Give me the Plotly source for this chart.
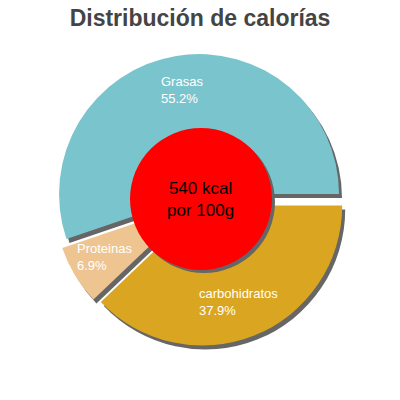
import plotly.graph_objects as go

# energy split (percent of calories)
labels = ["Grasas", "Proteinas", "carbohidratos"]
values = [55.2, 6.9, 37.9]
colors = ["#7AC5CD", "#EEC591", "#DAA520"]
center_text = ["540 kcal", "por 100g"]

W = H = 400
cx, cy, half = 200, 200, 146  # pie centre / half box (px)
pull = 0.043
shadow_dx, shadow_dy = 3, 4
# first slice starts at 3 o'clock and runs counterclockwise
rot = 90 - 360 * values[0] / sum(values)


def dom(x, y, h):
    # px box -> paper domain
    return dict(x=[(x - h) / W, (x + h) / W], y=[(H - y - h) / H, (H - y + h) / H])


fig = go.Figure()
# shadow pie
fig.add_trace(go.Pie(labels=labels, values=values, sort=False, direction="counterclockwise",
                     rotation=rot, pull=[pull] * 3, marker=dict(colors=["#666666"] * 3, line=dict(width=0)),
                     textinfo="none", hoverinfo="skip", showlegend=False,
                     domain=dom(cx + shadow_dx, cy + shadow_dy, half)))
fig.add_trace(go.Pie(labels=labels, values=values, sort=False, direction="counterclockwise",
                     rotation=rot, pull=[pull] * 3, marker=dict(colors=colors, line=dict(width=0)),
                     textinfo="none", hoverinfo="skip", showlegend=False,
                     domain=dom(cx, cy, half)))

# red centre disc + shadow
r0, ccx, ccy = 71, 201, 199
for dx, dy, col in [(3, 3, "#666666"), (0, 0, "#FF0000")]:
    fig.add_shape(type="circle", xref="paper", yref="paper", layer="above",
                  x0=(ccx - r0 + dx) / W, x1=(ccx + r0 + dx) / W,
                  y0=(H - ccy - r0 - dy) / H, y1=(H - ccy + r0 - dy) / H,
                  fillcolor=col, line=dict(width=0))

fig.add_annotation(x=ccx / W, y=1 - ccy / H, xref="paper", yref="paper",
                   text="<br>".join(center_text), showarrow=False, align="center",
                   font=dict(size=17, color="black", family="Liberation Sans"))

# slice labels (left x, middle y of the two lines)
label_pos = [(159, 90), (75, 257), (197, 302)]
for lab, v, (lx, ly) in zip(labels, values, label_pos):
    fig.add_annotation(x=lx / W, y=1 - ly / H, xref="paper", yref="paper",
                       text=f"{lab}<br>{v}%", showarrow=False, xanchor="left", yanchor="middle",
                       align="left", font=dict(size=13, color="white", family="Liberation Sans"))

fig.update_layout(
    width=W, height=H, margin=dict(l=0, r=0, t=0, b=0),
    paper_bgcolor="white", plot_bgcolor="white",
    title=dict(text="<b>Distribución de calorías</b>", x=0.5, xanchor="center",
               y=1 - 18 / H, yanchor="middle", yref="container",
               font=dict(size=23, color="#444444", family="Liberation Sans")),
)

# drop the browser's default 8px body margin so the figure sits at the page corner
fig.write_html("out.html", config={"displayModeBar": False},
               post_script="document.body.style.margin='0px';")
